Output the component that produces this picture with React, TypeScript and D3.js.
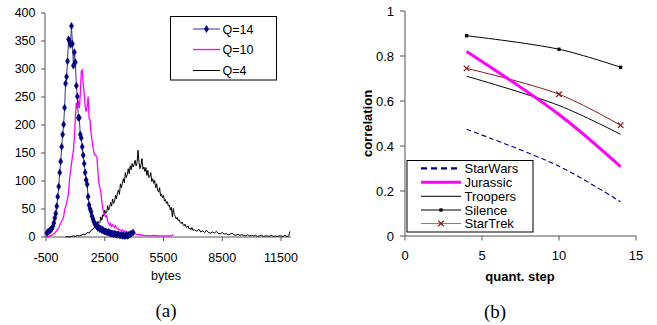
import React from "react";
import * as d3 from "d3";

// ---------- Left chart (a): histogram of frame sizes ----------
const q14: [number, number][] = [
  [-450, 7], [-400, 9], [-350, 10], [-300, 12], [-250, 13], [-200, 15], [-150, 19], [-100, 25],
  [-50, 34], [0, 42], [50, 55], [100, 72], [150, 90], [200, 115], [250, 135], [300, 161],
  [350, 183], [400, 201], [450, 231], [500, 274], [550, 286], [600, 314], [650, 353], [700, 350],
  [750, 343], [800, 377], [850, 345], [900, 306], [950, 330], [1000, 312], [1050, 270], [1100, 251],
  [1150, 213], [1200, 213], [1250, 183], [1300, 177], [1350, 161], [1400, 146], [1450, 131], [1500, 115],
  [1550, 102], [1600, 94], [1650, 72], [1700, 57], [1750, 50], [1800, 45], [1850, 37], [1900, 32],
  [1950, 27], [2000, 23], [2050, 21], [2100, 19], [2150, 16], [2200, 17], [2250, 14], [2300, 15],
  [2350, 12], [2400, 13], [2450, 11], [2500, 10], [2550, 10], [2600, 9], [2650, 8], [2700, 9],
  [2750, 7], [2800, 7], [2850, 6], [2900, 6], [2950, 5], [3000, 6], [3050, 5], [3100, 4],
  [3150, 4], [3200, 5], [3250, 3], [3300, 3], [3350, 4], [3400, 2], [3450, 3], [3500, 2],
  [3550, 2], [3600, 3], [3650, 2], [3700, 3], [3750, 4], [3800, 5], [3850, 6], [3950, 8],
];

const q10: [number, number][] = [
  [-450, 0], [-300, 2], [-150, 4], [-50, 7], [50, 12], [150, 16], [200, 21], [300, 28],
  [400, 36], [450, 48], [550, 60], [650, 78], [700, 102], [800, 131], [900, 155], [950, 178],
  [1000, 215], [1050, 240], [1100, 230], [1150, 244], [1200, 230], [1250, 254], [1300, 295], [1350, 298],
  [1400, 274], [1450, 256], [1500, 233], [1550, 224], [1600, 233], [1650, 251], [1700, 212], [1750, 209],
  [1800, 185], [1850, 173], [1900, 160], [1950, 150], [2000, 146], [2050, 145], [2100, 143], [2150, 117],
  [2200, 96], [2250, 88], [2300, 81], [2350, 63], [2400, 52], [2450, 42], [2500, 40], [2550, 36],
  [2600, 38], [2650, 28], [2700, 25], [2750, 21], [2800, 24], [2850, 19], [2900, 22], [2950, 19],
  [3000, 17], [3050, 20], [3100, 16], [3200, 14], [3300, 12], [3400, 13], [3450, 10], [3500, 11],
  [3600, 10], [3700, 8], [3800, 9], [3950, 7], [4100, 5], [4300, 4], [4500, 3], [4800, 2],
  [5000, 3], [5300, 2], [5600, 2], [5900, 2], [6000, 5],
];

const q4: [number, number][] = [
  [500, 0], [600, 1], [700, 0], [800, 1], [900, 2], [1000, 1], [1100, 3], [1200, 2],
  [1300, 3], [1400, 5], [1500, 4], [1600, 8], [1700, 7], [1800, 12], [1900, 14], [2000, 19],
  [2050, 23], [2100, 20], [2150, 28], [2200, 24], [2250, 26], [2300, 36], [2350, 30], [2400, 40],
  [2450, 37], [2500, 48], [2550, 42], [2600, 44], [2650, 56], [2700, 48], [2750, 53], [2800, 62],
  [2850, 55], [2900, 68], [2950, 60], [3000, 63], [3050, 75], [3100, 68], [3150, 79], [3200, 84],
  [3250, 76], [3300, 95], [3350, 88], [3400, 96], [3450, 104], [3500, 97], [3550, 115], [3600, 106],
  [3650, 112], [3700, 122], [3750, 113], [3800, 127], [3850, 120], [3900, 131], [3950, 125], [4000, 130],
  [4050, 137], [4100, 127], [4150, 133], [4200, 155], [4250, 133], [4300, 122], [4350, 129], [4400, 140],
  [4450, 121], [4500, 125], [4550, 117], [4600, 124], [4650, 110], [4700, 119], [4750, 106], [4800, 108],
  [4850, 115], [4900, 99], [4950, 104], [5000, 96], [5050, 101], [5100, 88], [5150, 95], [5200, 84],
  [5250, 80], [5300, 88], [5350, 73], [5400, 77], [5450, 70], [5500, 74], [5550, 64], [5600, 67],
  [5650, 60], [5700, 63], [5750, 55], [5800, 57], [5850, 48], [5900, 53], [5950, 36], [6000, 51],
  [6050, 40], [6100, 37], [6150, 32], [6200, 35], [6250, 29], [6300, 31], [6350, 26], [6400, 24],
  [6450, 27], [6500, 22], [6550, 20], [6600, 23], [6650, 18], [6700, 17], [6750, 20], [6800, 15],
  [6850, 16], [6900, 13], [6950, 17], [7000, 12], [7100, 13], [7200, 10], [7300, 14], [7400, 9],
  [7500, 11], [7600, 8], [7700, 12], [7800, 8], [7900, 7], [8000, 9], [8100, 7], [8200, 10],
  [8300, 6], [8400, 6], [8500, 8], [8600, 5], [8700, 6], [8800, 4], [8900, 5], [9000, 7],
  [9100, 4], [9200, 3], [9300, 5], [9400, 3], [9500, 4], [9600, 3], [9700, 2], [9800, 4],
  [9900, 2], [10000, 3], [10100, 2], [10200, 3], [10300, 1], [10400, 2], [10500, 3], [10600, 1],
  [10700, 2], [10800, 2], [10900, 1], [11000, 3], [11100, 1], [11200, 2], [11300, 1], [11400, 2],
  [11500, 2], [11600, 1], [11700, 3], [11800, 1], [11900, 2], [11950, 10],
];

const leftXTicks = [-500, 2500, 5500, 8500, 11500];
const leftYTicks = [0, 50, 100, 150, 200, 250, 300, 350, 400];
const leftLegend = ["Q=14", "Q=10", "Q=4"];

// ---------- Right chart (b): correlation vs quantization step ----------
const quantSteps = [4, 10, 14];
const starWars = [0.474, 0.31, 0.152];
const jurassic = [0.82, 0.54, 0.308];
const troopers = [0.71, 0.58, 0.452];
const silence = [0.89, 0.83, 0.75];
const starTrek = [0.745, 0.63, 0.492];
const rightXTicks = [0, 5, 10, 15];
const rightYTicks = [0, 0.2, 0.4, 0.6, 0.8, 1];
const rightYLabels = ["0", "0.2", "0.4", "0.6", "0.8", "1"];
const rightLegend = ["StarWars", "Jurassic", "Troopers", "Silence", "StarTrek"];

const SANS = "'Liberation Sans', Arial, sans-serif";
const SERIF = "'Liberation Serif', 'Times New Roman', serif";
const AXIS = "#555";

export default function App() {
  // Left scales
  const xL = d3.scaleLinear().domain([-500, 12000]).range([46, 290.8]);
  const yL = d3.scaleLinear().domain([0, 400]).range([237, 13]);
  const lineL = d3
    .line<[number, number]>()
    .x((d) => xL(d[0]))
    .y((d) => yL(d[1]));

  // Right scales
  const xR = d3.scaleLinear().domain([0, 15]).range([405, 636]);
  const yR = d3.scaleLinear().domain([0, 1]).range([236, 11]);
  const lineR = (vals: number[]) =>
    d3
      .line<number>()
      .x((_, i) => xR(quantSteps[i]))
      .y((d) => yR(d))
      .curve(d3.curveCatmullRom.alpha(0.5))(vals) || "";

  const diamond = d3.symbol().type(d3.symbolDiamond).size(14)() || "";
  const square = d3.symbol().type(d3.symbolSquare).size(11)() || "";
  const cross = d3.symbol().type(d3.symbolX).size(22)() || "";

  const leftLegendY = [29, 49.5, 70.5];
  const rightLegendY = [168.3, 182.3, 196.3, 210, 223.5];

  return (
    <svg
      width={657}
      height={325}
      style={{ position: "absolute", left: 0, top: 0, background: "#fff" }}
      fontFamily={SANS}
    >
      <rect x={0} y={0} width={657} height={325} fill="#fff" />

      {/* ===== Left chart ===== */}
      <g>
        <line x1={45} x2={45} y1={yL(400)} y2={yL(0)} stroke={AXIS} strokeWidth={1} />
        {leftYTicks.map((t) => (
          <g key={"ly" + t}>
            <line x1={41} x2={45} y1={yL(t)} y2={yL(t)} stroke={AXIS} />
            <text x={35.5} y={yL(t) + 4.4} fontSize={12.5} textAnchor="end" fill="#000">
              {t}
            </text>
          </g>
        ))}
        <line x1={45} x2={xL(12000)} y1={237} y2={237} stroke={AXIS} strokeWidth={1} />
        {leftXTicks.map((t) => (
          <g key={"lx" + t}>
            <line x1={xL(t)} x2={xL(t)} y1={237} y2={241} stroke={AXIS} />
            <text x={xL(t)} y={261.5} fontSize={12.5} textAnchor="middle" fill="#000">
              {t}
            </text>
          </g>
        ))}
        <text x={166} y={279.5} fontSize={12.5} textAnchor="middle">
          bytes
        </text>

        <path d={lineL(q4) || ""} fill="none" stroke="#000" strokeWidth={1} />
        <path d={lineL(q10) || ""} fill="none" stroke="#ff00ff" strokeWidth={1.3} />
        <path d={lineL(q14) || ""} fill="none" stroke="#33338f" strokeWidth={1} />
        {q14.map((d, i) => (
          <path
            key={"m14" + i}
            d={diamond}
            transform={`translate(${xL(d[0])},${yL(d[1])})`}
            fill="#000080"
            stroke="#000080"
            strokeWidth={0.6}
          />
        ))}

        <rect x={170.5} y={16.5} width={106} height={63.5} fill="#fff" stroke="#000" strokeWidth={1} />
        {leftLegend.map((name, i) => {
          const y = leftLegendY[i];
          const color = i === 0 ? "#33338f" : i === 1 ? "#ff00ff" : "#000";
          return (
            <g key={"ll" + name}>
              <line x1={193} x2={220} y1={y} y2={y} stroke={color} strokeWidth={i === 1 ? 1.3 : 1} />
              {i === 0 && (
                <path d={diamond} transform={`translate(206.5,${y})`} fill="#000080" stroke="#000080" strokeWidth={0.6} />
              )}
              <text x={222.5} y={y + 4.5} fontSize={12.5}>
                {name}
              </text>
            </g>
          );
        })}

        <text x={166} y={317} fontSize={19} fontFamily={SERIF} textAnchor="middle">
          (a)
        </text>
      </g>

      {/* ===== Right chart ===== */}
      <g>
        <line x1={405} x2={405} y1={yR(1)} y2={yR(0)} stroke={AXIS} />
        {rightYTicks.map((t, i) => (
          <g key={"ry" + t}>
            <line x1={400} x2={405} y1={yR(t)} y2={yR(t)} stroke={AXIS} />
            <text x={394} y={yR(t) + 4.6} fontSize={13} textAnchor="end">
              {rightYLabels[i]}
            </text>
          </g>
        ))}
        <line x1={405} x2={xR(15)} y1={236} y2={236} stroke={AXIS} />
        {rightXTicks.map((t) => (
          <g key={"rx" + t}>
            <line x1={xR(t)} x2={xR(t)} y1={236} y2={240.5} stroke={AXIS} />
            <text x={xR(t)} y={259.5} fontSize={13} textAnchor="middle">
              {t}
            </text>
          </g>
        ))}
        <text x={520} y={281} fontSize={13} fontWeight="bold" textAnchor="middle">
          quant. step
        </text>
        <text
          transform={`translate(372,${(yR(0) + yR(1)) / 2}) rotate(-90)`}
          fontSize={13}
          fontWeight="bold"
          textAnchor="middle"
        >
          correlation
        </text>

        <path d={lineR(starWars)} fill="none" stroke="#000080" strokeWidth={1.1} strokeDasharray="5,3" />
        <path d={lineR(troopers)} fill="none" stroke="#000" strokeWidth={1} />
        <path d={lineR(starTrek)} fill="none" stroke="#8b1a1a" strokeWidth={1} />
        <path d={lineR(silence)} fill="none" stroke="#000" strokeWidth={1} />
        <path d={lineR(jurassic)} fill="none" stroke="#ff00ff" strokeWidth={3} />
        {silence.map((v, i) => (
          <path key={"sq" + i} d={square} transform={`translate(${xR(quantSteps[i])},${yR(v)})`} fill="#000" />
        ))}
        {starTrek.map((v, i) => (
          <path
            key={"x" + i}
            d={cross}
            transform={`translate(${xR(quantSteps[i])},${yR(v)})`}
            fill="none"
            stroke="#8b1a1a"
            strokeWidth={1.2}
          />
        ))}

        <rect x={407} y={160.5} width={126} height={71.5} fill="#fff" stroke="#000" strokeWidth={1} />
        {rightLegend.map((name, i) => {
          const y = rightLegendY[i];
          return (
            <g key={"rl" + name}>
              {i === 0 && (
                <line x1={421} x2={461} y1={y} y2={y} stroke="#000080" strokeWidth={2.2} strokeDasharray="6,4" />
              )}
              {i === 1 && <line x1={421} x2={461} y1={y} y2={y} stroke="#ff00ff" strokeWidth={3} />}
              {i === 2 && <line x1={421} x2={461} y1={y} y2={y} stroke="#000" strokeWidth={1} />}
              {i === 3 && (
                <g>
                  <line x1={421} x2={461} y1={y} y2={y} stroke="#000" strokeWidth={1} />
                  <path d={square} transform={`translate(441,${y})`} fill="#000" />
                </g>
              )}
              {i === 4 && (
                <g>
                  <line x1={421} x2={461} y1={y} y2={y} stroke="#b86a6a" strokeWidth={1.2} />
                  <path d={cross} transform={`translate(441,${y})`} fill="none" stroke="#8b1a1a" strokeWidth={1.2} />
                </g>
              )}
              <text x={464.5} y={y + 4.7} fontSize={13}>
                {name}
              </text>
            </g>
          );
        })}

        <text x={495} y={317.5} fontSize={19} fontFamily={SERIF} textAnchor="middle">
          (b)
        </text>
      </g>
    </svg>
  );
}
